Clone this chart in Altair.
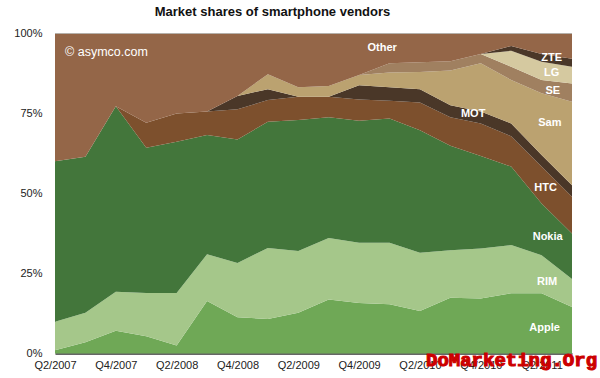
import altair as alt
import pandas as pd

quarters = ["Q2/2007", "Q3/2007", "Q4/2007", "Q1/2008", "Q2/2008", "Q3/2008",
            "Q4/2008", "Q1/2009", "Q2/2009", "Q3/2009", "Q4/2009", "Q1/2010",
            "Q2/2010", "Q3/2010", "Q4/2010", "Q1/2011", "Q2/2011", "Q3/2011"]

vendors = ["Apple", "RIM", "Nokia", "HTC", "MOT", "Sam", "SE", "LG", "ZTE", "Other"]
colors = ["#6fa856", "#a5c78a", "#43763b", "#7d502d", "#4a3728",
          "#bba270", "#a08060", "#d5c9a0", "#4a3728", "#946648"]

apple = [1.0, 3.5, 7.1, 5.4, 2.5, 16.4, 11.3, 10.8, 12.7, 16.9, 15.8, 15.4, 13.3, 17.4, 17.2, 18.8, 18.8, 14.5]
rim = [8.9, 9.2, 12.2, 13.5, 16.4, 14.6, 17.0, 22.2, 19.3, 19.2, 18.8, 19.2, 18.2, 14.9, 15.6, 15.1, 11.9, 8.8]
nokia = [50.2, 48.8, 58.0, 45.4, 47.3, 37.3, 38.6, 39.4, 41.0, 37.7, 38.1, 38.8, 38.3, 32.6, 28.9, 24.5, 16.2, 14.2]
htc = [0, 0, 0, 7.8, 8.8, 7.3, 9.4, 6.8, 7.2, 6.4, 6.7, 5.6, 8.6, 8.9, 10.2, 9.5, 11.5, 11.5]
mot = [0, 0, 0, 0, 0, 0, 4.2, 3.4, 0, 0, 4.4, 4.2, 4.2, 3.8, 3.7, 4.0, 3.6, 3.6]
sam = [0, 0, 0, 0, 0, 0, 0, 4.7, 3.0, 3.4, 3.2, 4.6, 5.4, 10.8, 15.1, 13.6, 19.3, 26.1]
se = [0, 0, 0, 0, 0, 0, 0, 0, 0, 0, 0, 2.9, 3.0, 2.9, 2.9, 4.1, 4.2, 5.7]
lg = [0, 0, 0, 0, 0, 0, 0, 0, 0, 0, 0, 0, 0, 0, 0, 5.0, 5.7, 5.2]
zte = [0, 0, 0, 0, 0, 0, 0, 0, 0, 0, 0, 0, 0, 0, 0, 1.5, 2.4, 2.5]
other = [39.9, 38.5, 22.7, 27.9, 25.0, 24.4, 19.5, 12.7, 16.8, 16.4, 13.0, 9.3, 9.0, 8.7, 6.4, 3.9, 6.4, 7.9]

series = [apple, rim, nokia, htc, mot, sam, se, lg, zte, other]

# in-chart labels (quarter index, percent)
label_text = ["ZTE", "LG", "SE", "Sam", "HTC", "Nokia", "RIM", "Apple", "MOT", "Other"]
label_x = [16.33, 16.33, 16.37, 16.27, 16.13, 16.2, 16.18, 16.1, 13.75, 10.76]
label_y = [92.3, 87.8, 82.0, 71.9, 51.8, 36.4, 22.5, 7.9, 74.8, 95.5]

rows = []
for rank, (v, vals) in enumerate(zip(vendors, series)):
    for i, (q, val) in enumerate(zip(quarters, vals)):
        rows.append({"idx": i, "quarter": q, "vendor": v, "rank": rank, "share": val})
df = pd.DataFrame(rows)

FONT = "Liberation Sans"
label_expr = "[" + ",".join("'" + q + "'" for q in quarters) + "][datum.value]"

x_enc = alt.X("idx:Q",
              scale=alt.Scale(domain=[0, 17], nice=False, zero=False),
              axis=alt.Axis(values=list(range(0, 17, 2)), labelExpr=label_expr,
                            title=None, grid=False, ticks=False, tickSize=0,
                            labelFont=FONT, labelFontSize=11, labelColor="#222",
                            labelPadding=6, labelFlush=False,
                            domainColor="#333", domainWidth=1.5))
y_enc = alt.Y("share:Q", stack="zero",
              scale=alt.Scale(domain=[0, 100], nice=False),
              axis=alt.Axis(values=[0, 25, 50, 75, 100], labelExpr="datum.value + '%'",
                            title=None, grid=False, ticks=False, tickSize=0,
                            labelFont=FONT, labelFontSize=11, labelColor="#222",
                            labelPadding=13, domainColor="#aaa"))

area = alt.Chart(df).mark_area(opacity=1, interpolate="linear").encode(
    x=x_enc,
    y=y_enc,
    color=alt.Color("vendor:N", scale=alt.Scale(domain=vendors, range=colors), legend=None),
    order=alt.Order("rank:Q", sort="ascending"),
)

top_rule = alt.Chart(pd.DataFrame({"top": [100]})).mark_rule(color="#b5b0aa", strokeWidth=1).encode(
    y=alt.Y("top:Q", title=None)
)

ann = pd.DataFrame({"text": label_text, "idx": label_x, "pct": label_y})
labels = alt.Chart(ann).mark_text(font=FONT, fontWeight="bold", fontSize=11,
                                  color="white", align="center", baseline="middle").encode(
    x=alt.X("idx:Q", title=None), y=alt.Y("pct:Q", title=None), text="text:N"
)

copy_df = pd.DataFrame({"text": ["\u00a9 asymco.com"], "idx": [0.33], "pct": [94.1]})
copyright = alt.Chart(copy_df).mark_text(font=FONT, fontSize=12.5, color="white",
                                         align="left", baseline="middle").encode(
    x=alt.X("idx:Q", title=None), y=alt.Y("pct:Q", title=None), text="text:N"
)

wm = alt.Chart(pd.DataFrame({"text": ["DoMarketing.Org"]})).mark_text(
    font="Liberation Mono", fontWeight="bold", fontSize=19, color="#cc0000",
    stroke="#cc0000", strokeWidth=1.1, align="left", baseline="middle"
).encode(x=alt.value(371), y=alt.value(326), text="text:N")

chart = alt.layer(area, top_rule, labels, copyright, wm).properties(
    width=517, height=320,
    padding={"left": 55, "top": 33.5, "right": 28, "bottom": 24.5},
    autosize=alt.AutoSizeParams(type="none"),
    title=alt.TitleParams("Market shares of smartphone vendors", font=FONT, fontSize=13,
                          fontWeight="bold", color="#111", anchor="middle", dx=-41,
                          offset=9),
).configure_view(stroke=None)

chart.save("out.html", embed_options={"renderer": "svg", "actions": False})
